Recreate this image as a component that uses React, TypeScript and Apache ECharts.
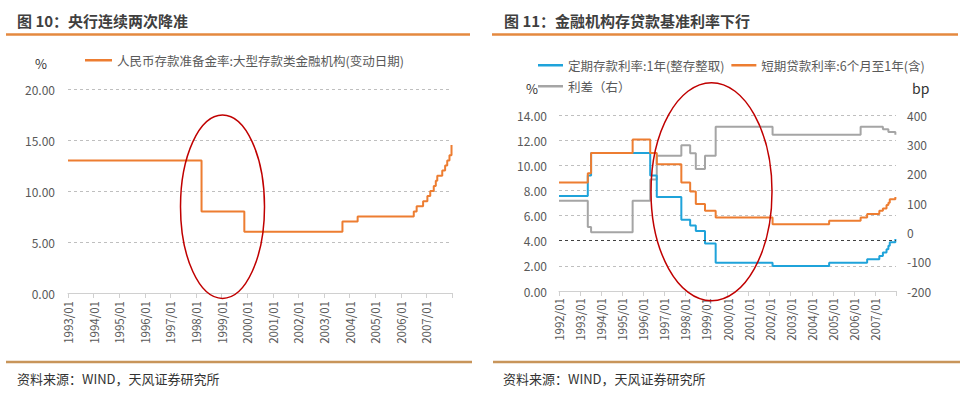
import React, { useEffect, useRef } from "react";
import * as echarts from "echarts";

const FONT = "'Noto Sans CJK SC', 'Noto Sans', sans-serif";

// Left chart: RRR of large deposit-taking institutions (change dates)
const rrrName = "人民币存款准备金率:大型存款类金融机构(变动日期)";
const rrrDates = [
  "1993-01-01", "1998-03-21", "1999-11-21", "2003-09-21", "2004-04-25",
  "2006-07-05", "2006-08-15", "2006-11-15", "2007-01-15", "2007-02-25",
  "2007-04-16", "2007-05-15", "2007-06-05", "2007-08-15", "2007-09-25",
  "2007-10-25", "2007-11-26", "2007-12-25",
];
const rrrValues = [13, 8, 6, 7, 7.5, 8, 8.5, 9, 9.5, 10, 10.5, 11, 11.5, 12, 12.5, 13, 13.5, 14.5];

// Right chart: benchmark rates (change dates)
const depositName = "定期存款利率:1年(整存整取)";
const loanName = "短期贷款利率:6个月至1年(含)";
const spreadName = "利差（右）";
const rateDates = [
  "1992-01-01", "1993-05-15", "1993-07-11", "1995-07-01", "1996-05-01",
  "1996-08-23", "1997-10-23", "1998-03-25", "1998-07-01", "1998-12-07",
  "1999-06-10", "2002-02-21", "2004-10-29", "2006-04-28", "2006-08-19",
  "2007-03-18", "2007-05-19", "2007-07-21", "2007-08-22", "2007-09-15",
  "2007-12-21",
];
const depositValues = [7.56, 9.18, 10.98, 10.98, 9.18, 7.47, 5.67, 5.22, 4.77, 3.78, 2.25, 1.98, 2.25, 2.25, 2.52, 2.79, 3.06, 3.33, 3.6, 3.87, 4.14];
const loanValues = [8.64, 9.36, 10.98, 12.06, 10.98, 10.08, 8.64, 7.92, 6.93, 6.39, 5.85, 5.31, 5.58, 5.85, 6.12, 6.39, 6.57, 6.84, 7.02, 7.29, 7.47];
const spreadValues = [108, 18, 0, 108, 180, 261, 297, 270, 216, 261, 360, 333, 333, 360, 360, 360, 351, 351, 342, 342, 333];

const leftTitle = "图 10：央行连续两次降准";
const rightTitle = "图 11：金融机构存贷款基准利率下行";
const sourceText = "资料来源：WIND，天风证券研究所";

function yearFrac(d: string): number {
  const dt = new Date(d + "T00:00:00Z");
  const y = dt.getUTCFullYear();
  const s = Date.UTC(y, 0, 1);
  const e = Date.UTC(y + 1, 0, 1);
  return y + (dt.getTime() - s) / (e - s);
}

const pair = (dates: string[], vals: number[]) => dates.map((d, i) => [yearFrac(d), vals[i]]);

const AX_COLOR = "#595959";
const GRID_COLOR = "#BFBFBF";

function xAxisCfg(gridIndex: number, min: number, max: number, margin: number) {
  return {
    type: "value",
    gridIndex,
    min,
    max,
    interval: 1,
    axisLine: { show: true, lineStyle: { color: "#D0D0D0", width: 1 } },
    axisTick: { show: true, length: 5, lineStyle: { color: "#D0D0D0" } },
    splitLine: { show: false },
    axisLabel: {
      rotate: 90,
      margin,
      fontSize: 11.5,
      color: AX_COLOR,
      fontFamily: FONT,
      formatter: (v: number) => (v >= max ? "" : `${v}/01`),
    },
  };
}

function yAxisCfg(gridIndex: number, min: number, max: number, interval: number, dec: boolean, margin: number) {
  return {
    type: "value",
    gridIndex,
    min,
    max,
    interval,
    axisLine: { show: false },
    axisTick: { show: false },
    splitLine: { show: true, lineStyle: { color: GRID_COLOR, type: [3, 3], width: 1 } },
    axisLabel: {
      margin,
      fontSize: 12,
      color: AX_COLOR,
      fontFamily: FONT,
      formatter: (v: number) => (dec ? v.toFixed(2) : String(v)),
    },
  };
}

export default function App() {
  const ref = useRef<HTMLDivElement>(null);
  useEffect(() => {
    if (!ref.current) return;
    const chart = echarts.init(ref.current, null, { renderer: "svg" });
    const legendText = { fontSize: 12.5, color: AX_COLOR, fontFamily: FONT };
    const option: any = {
      animation: false,
      backgroundColor: "#FFFFFF",
      textStyle: { fontFamily: FONT },
      grid: [
        { left: 68, top: 89, width: 384, height: 204 },
        { left: 559, top: 115, width: 337, height: 176 },
      ],
      xAxis: [xAxisCfg(0, 1993, 2008, 8), xAxisCfg(1, 1992, 2008, 7)],
      yAxis: [
        yAxisCfg(0, 0, 20, 5, true, 13),
        yAxisCfg(1, 0, 14, 2, true, 12),
        {
          ...yAxisCfg(1, -200, 400, 100, false, 11),
          position: "right",
          splitLine: { show: false },
        },
      ],
      legend: [
        {
          data: [rrrName],
          left: 85,
          top: 54,
          padding: 0,
          icon: "rect",
          itemWidth: 27,
          itemHeight: 2.5,
          textStyle: legendText,
        },
        {
          data: [depositName, loanName],
          left: 538,
          top: 59,
          padding: 0,
          icon: "rect",
          itemWidth: 25,
          itemHeight: 2.5,
          itemGap: 7,
          textStyle: legendText,
        },
        {
          data: [spreadName],
          left: 538,
          top: 80,
          padding: 0,
          icon: "rect",
          itemWidth: 25,
          itemHeight: 2.5,
          textStyle: legendText,
        },
      ],
      series: [
        {
          name: rrrName,
          type: "line",
          step: "end",
          xAxisIndex: 0,
          yAxisIndex: 0,
          showSymbol: false,
          color: "#ED7D31",
          lineStyle: { width: 2, color: "#ED7D31" },
          data: pair(rrrDates, rrrValues),
        },
        {
          name: spreadName,
          type: "line",
          step: "end",
          xAxisIndex: 1,
          yAxisIndex: 2,
          showSymbol: false,
          color: "#A5A5A5",
          lineStyle: { width: 2, color: "#A5A5A5" },
          data: pair(rateDates, spreadValues),
        },
        {
          name: depositName,
          type: "line",
          step: "end",
          xAxisIndex: 1,
          yAxisIndex: 1,
          showSymbol: false,
          color: "#1FA3DA",
          lineStyle: { width: 2, color: "#1FA3DA" },
          data: pair(rateDates, depositValues),
          markLine: {
            silent: true,
            symbol: "none",
            label: { show: false },
            lineStyle: { type: [3, 3], color: "#404040", width: 1 },
            data: [{ yAxis: 4 }],
          },
        },
        {
          name: loanName,
          type: "line",
          step: "end",
          xAxisIndex: 1,
          yAxisIndex: 1,
          showSymbol: false,
          color: "#ED7D31",
          lineStyle: { width: 2, color: "#ED7D31" },
          data: pair(rateDates, loanValues),
        },
      ],
      graphic: [
        { type: "text", x: 17, y: 20, style: { text: leftTitle, fill: "#3F3F3F", fontSize: 15, fontWeight: "bold", fontFamily: FONT, textVerticalAlign: "middle" } },
        { type: "text", x: 504, y: 20, style: { text: rightTitle, fill: "#3F3F3F", fontSize: 15, fontWeight: "bold", fontFamily: FONT, textVerticalAlign: "middle" } },
        { type: "line", shape: { x1: 6, y1: 34.5, x2: 470, y2: 34.5 }, style: { stroke: "#E4893F", lineWidth: 2.5 } },
        { type: "line", shape: { x1: 492, y1: 34.5, x2: 958, y2: 34.5 }, style: { stroke: "#E4893F", lineWidth: 2.5 } },
        { type: "line", shape: { x1: 6, y1: 362, x2: 472, y2: 362 }, style: { stroke: "#C8955A", lineWidth: 2.5 } },
        { type: "line", shape: { x1: 493, y1: 362, x2: 960, y2: 362 }, style: { stroke: "#C8955A", lineWidth: 2.5 } },
        { type: "text", x: 35, y: 63, style: { text: "%", fill: "#333333", fontSize: 13, fontFamily: FONT, textVerticalAlign: "middle" } },
        { type: "text", x: 526, y: 88, style: { text: "%", fill: "#333333", fontSize: 13, fontFamily: FONT, textVerticalAlign: "middle" } },
        { type: "text", x: 912, y: 88, style: { text: "bp", fill: "#333333", fontSize: 14, fontFamily: FONT, textVerticalAlign: "middle" } },
        { type: "text", x: 17, y: 378, style: { text: sourceText, fill: "#333333", fontSize: 13, fontFamily: FONT, textVerticalAlign: "middle" } },
        { type: "text", x: 503, y: 378, style: { text: sourceText, fill: "#333333", fontSize: 13, fontFamily: FONT, textVerticalAlign: "middle" } },
        { type: "ellipse", z: 100, shape: { cx: 222.5, cy: 206.7, rx: 42, ry: 91.7 }, style: { fill: "none", stroke: "#C00000", lineWidth: 1.5 } },
        { type: "ellipse", z: 100, shape: { cx: 711.5, cy: 191.7, rx: 60.5, ry: 109 }, style: { fill: "none", stroke: "#C00000", lineWidth: 1.5 } },
      ],
    };
    chart.setOption(option);
    return () => chart.dispose();
  }, []);
  return (
    <div
      ref={ref}
      style={{ position: "absolute", left: 0, top: 0, width: 965, height: 397, background: "#fff" }}
    />
  );
}
